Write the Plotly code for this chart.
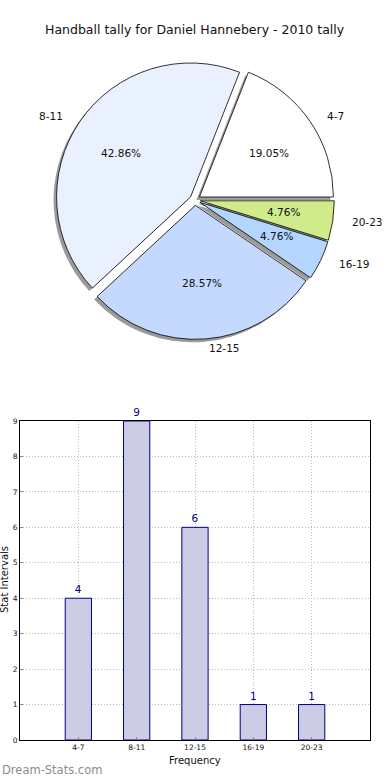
import math
import plotly.graph_objects as go

# ---- data ----
categories = ["4-7", "8-11", "12-15", "16-19", "20-23"]
counts = [4, 9, 6, 1, 1]
pie_colors = ["#ffffff", "#eaf1fe", "#c5d8fe", "#b3d5fe", "#cfeb8a"]
title_text = "Handball tally for Daniel Hannebery - 2010 tally"
y_ticks = list(range(0, 10))

W, H = 390, 780
FONT = "DejaVu Sans"

def px_x(x):
    return x / W

def px_y(y):
    return 1 - y / H

fig = go.Figure()

total = sum(counts)
# first slice starts at 3 o'clock and runs counter-clockwise
rot = 90 - 360 * counts[0] / total

# ---- pie geometry (pixels) ----
cx, cy = 195, 200
pull = 0.04
r = 134
half = r * (1 + pull)

sh = 3
fig.add_trace(go.Pie(
    labels=categories, values=counts, sort=False, direction="counterclockwise",
    rotation=rot, pull=[pull] * len(counts), textinfo="none", hoverinfo="skip",
    marker=dict(colors=["#9a9a9a"] * len(counts), line=dict(width=0)),
    domain=dict(x=[px_x(cx - half - sh), px_x(cx + half - sh)],
                y=[px_y(cy + half + sh), px_y(cy - half + sh)]),
    showlegend=False,
))
fig.add_trace(go.Pie(
    labels=categories, values=counts, sort=False, direction="counterclockwise",
    rotation=rot, pull=[pull] * len(counts), textinfo="none",
    marker=dict(colors=pie_colors, line=dict(color="#000000", width=0.8)),
    domain=dict(x=[px_x(cx - half), px_x(cx + half)],
                y=[px_y(cy + half), px_y(cy - half)]),
    showlegend=False,
))

annotations = []
cum = 0
for lab, v in zip(categories, counts):
    a0 = cum / total * 360
    cum += v
    a1 = cum / total * 360
    mid = math.radians((a0 + a1) / 2)
    c, s = math.cos(mid), math.sin(mid)
    ox, oy = cx + pull * r * c, cy - pull * r * s
    annotations.append(dict(
        x=px_x(ox + 0.6 * 141 * c), y=px_y(oy - 0.6 * 129 * s), xref="paper", yref="paper",
        text=f"{v / total * 100:.2f}%", showarrow=False,
        font=dict(family=FONT, size=10.5, color="#111111"),
        xanchor="center", yanchor="middle"))
    annotations.append(dict(
        x=px_x(ox + 1.1 * 138 * c), y=px_y(oy - 1.1 * 130 * s), xref="paper", yref="paper",
        text=lab, showarrow=False,
        font=dict(family=FONT, size=10.5, color="#111111"),
        xanchor="left" if c > 0 else "right", yanchor="middle"))

annotations.append(dict(
    x=px_x(195), y=px_y(30), xref="paper", yref="paper", text=title_text, showarrow=False,
    font=dict(family=FONT, size=12.5, color="#111111"), xanchor="center", yanchor="middle"))
annotations.append(dict(
    x=0, y=px_y(770), xref="paper", yref="paper", text="Dream-Stats.com",
    showarrow=False, font=dict(family=FONT, size=11.5, color="#8c8c8c"),
    xanchor="left", yanchor="middle"))
# axis titles
annotations.append(dict(
    x=px_x(195), y=px_y(760), xref="paper", yref="paper", text="Frequency",
    showarrow=False, font=dict(family=FONT, size=10, color="#111111"),
    xanchor="center", yanchor="middle"))
annotations.append(dict(
    x=px_x(4), y=px_y(580), xref="paper", yref="paper", text="Stat Intervals",
    showarrow=False, textangle=-90, font=dict(family=FONT, size=10, color="#111111"),
    xanchor="center", yanchor="middle"))

# ---- bar chart ----
fig.add_trace(go.Bar(
    x=categories, y=counts, width=0.45,
    marker=dict(color="#ccccE5", line=dict(color="#000080", width=1)),
    text=[str(v) for v in counts], textposition="outside",
    textfont=dict(family=FONT, size=10.5, color="#000080"),
    cliponaxis=False, showlegend=False,
    xaxis="x", yaxis="y",
))

axis_common = dict(
    showline=True, linecolor="#000000", linewidth=1, mirror=True,
    showgrid=True, gridcolor="#b8b8b8", griddash="1px,2px", gridwidth=1,
    ticks="inside", ticklen=3, tickcolor="#888888", zeroline=False,
    tickfont=dict(family=FONT, size=7.5, color="#111111"),
    automargin=False,
)

fig.update_layout(
    width=W, height=H,
    margin=dict(l=0, r=0, t=0, b=0, autoexpand=False),
    paper_bgcolor="#ffffff", plot_bgcolor="#ffffff",
    annotations=annotations,
    xaxis=dict(domain=[px_x(20), px_x(370)], type="category", range=[-1, 5], **axis_common),
    yaxis=dict(domain=[px_y(740), px_y(421)], range=[0, 9], tickvals=y_ticks, **axis_common),
)

# remove the default page margin so the figure fills the window exactly
fig.write_html("out.html", config={"displayModeBar": False},
               post_script="document.body.style.margin='0';")
